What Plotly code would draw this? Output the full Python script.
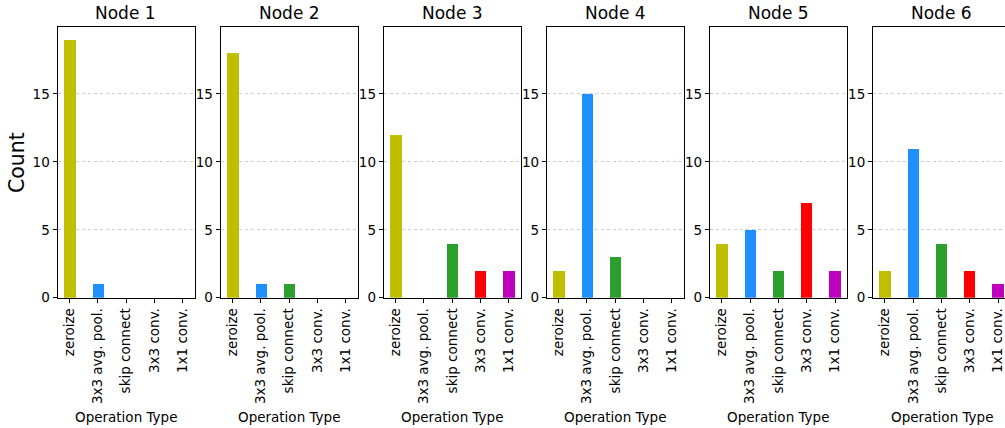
import plotly.graph_objects as go

categories = ["zeroize", "3x3 avg. pool.", "skip connect", "3x3 conv.", "1x1 conv."]
node_titles = ["Node 1", "Node 2", "Node 3", "Node 4", "Node 5", "Node 6"]
node1 = [19, 1, 0, 0, 0]
node2 = [18, 1, 1, 0, 0]
node3 = [12, 0, 4, 2, 2]
node4 = [2, 15, 3, 0, 0]
node5 = [4, 5, 2, 7, 2]
node6 = [2, 11, 4, 2, 1]
nodes = [node1, node2, node3, node4, node5, node6]
bar_colors = ["#bfbf00", "#1e90ff", "#2ca02c", "#ff0000", "#bf00bf"]

W, H = 1005, 428          # reference frame (pixel positions measured in it)
HP = 436                  # page height of the figure
x0s = [57.5 + 163.1 * i for i in range(6)]
pw = 137.0
y_bot, y_top = 297.7, 26.7
xr = [-0.42, 4.42]
pxu = pw / (xr[1] - xr[0])

fig = go.Figure()
font = "DejaVu Sans"
tick_size = 13.5
annotations = []
for i, (vals, title) in enumerate(zip(nodes, node_titles)):
    n = i + 1
    xa = "x" if n == 1 else f"x{n}"
    ya = "y" if n == 1 else f"y{n}"
    left = x0s[i]
    right = left + pw
    rng = list(xr)
    mirror_y = True
    if right > W:
        right = W
        rng = [xr[0], xr[0] + (W - left) / pxu]
        mirror_y = False
    fig.add_trace(go.Bar(
        x=list(range(len(categories))), y=vals, width=0.4,
        marker=dict(color=bar_colors, line=dict(width=0)),
        xaxis=xa, yaxis=ya, showlegend=False, cliponaxis=False,
    ))
    xkey = "xaxis" if n == 1 else f"xaxis{n}"
    ykey = "yaxis" if n == 1 else f"yaxis{n}"
    fig.layout[xkey] = dict(
        domain=[left / W, right / W], range=rng, anchor=ya,
        tickmode="array", tickvals=list(range(len(categories))), ticktext=categories,
        tickangle=-90, ticks="outside", ticklen=4, tickcolor="black",
        showline=True, linecolor="black", linewidth=1, mirror=True,
        showgrid=False, zeroline=False, ticklabeloverflow="allow",
        tickfont=dict(family=font, size=tick_size, color="black"),
    )
    fig.layout[ykey] = dict(
        domain=[(H - y_bot) / H, (H - y_top) / H], range=[0, 19.95], anchor=xa,
        tickmode="linear", tick0=0, dtick=5,
        ticks="outside", ticklen=4, tickcolor="black",
        showline=True, linecolor="black", linewidth=1, mirror=mirror_y,
        showgrid=True, gridcolor="#cccccc", griddash="dot", gridwidth=1,
        zeroline=False,
        tickfont=dict(family=font, size=tick_size, color="black"),
    )
    cx = (left + left + pw) / 2 / W
    annotations.append(dict(text=title, x=cx, y=1 - 13 / H, xref="paper", yref="paper",
                            xanchor="center", yanchor="middle", showarrow=False,
                            font=dict(family=font, size=17, color="black")))
    annotations.append(dict(text="Operation Type", x=cx, y=1 - 416.5 / H, xref="paper", yref="paper",
                            xanchor="center", yanchor="middle", showarrow=False,
                            font=dict(family=font, size=13.5, color="black")))

annotations.append(dict(text="Count", x=17 / W, y=1 - 163 / H, xref="paper", yref="paper",
                        xanchor="center", yanchor="middle", showarrow=False, textangle=-90,
                        font=dict(family=font, size=20.5, color="black")))

fig.update_layout(
    width=W, height=HP, margin=dict(l=0, r=0, t=0, b=0),
    paper_bgcolor="white", plot_bgcolor="white",
    annotations=annotations, bargap=0,
)
css = "margin:0;padding:0;overflow:hidden;"
fig.write_html("out.html", config={"displayModeBar": False},
               post_script=("document.documentElement.style.cssText='%s';"
                            "document.body.style.cssText='%s';") % (css, css))
